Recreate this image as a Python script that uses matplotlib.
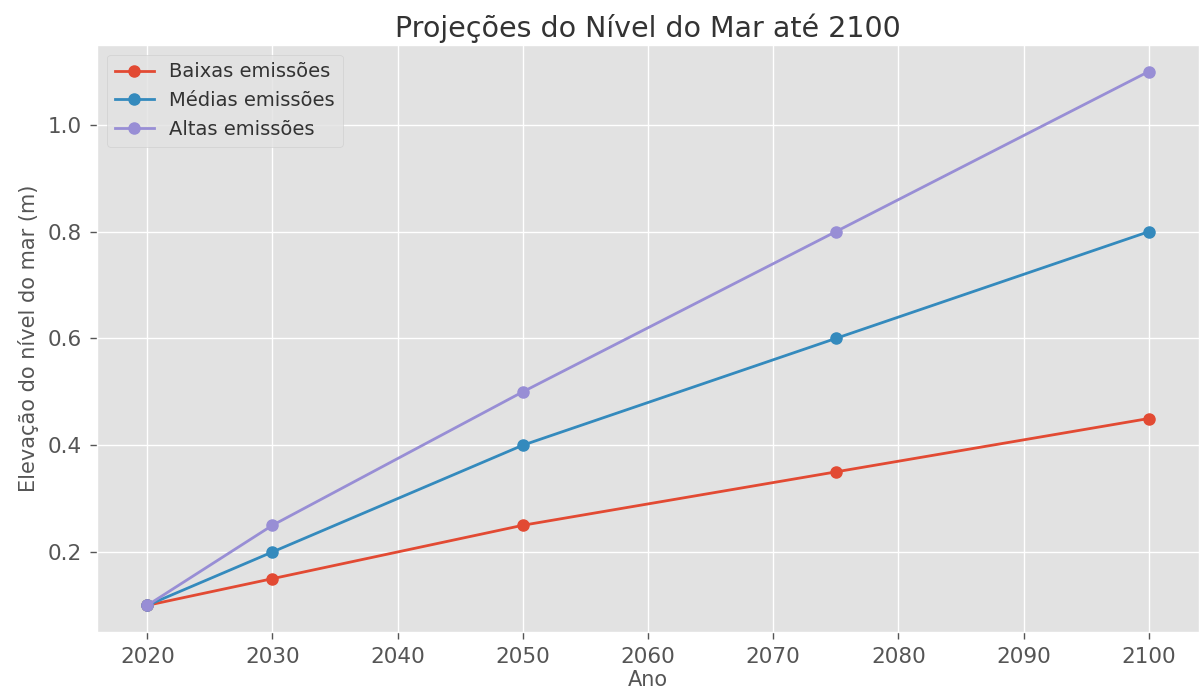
import matplotlib
matplotlib.use("Agg")
import matplotlib.pyplot as plt

# Dados das projeções
anos = [2020, 2030, 2050, 2075, 2100]
baixas = [0.10, 0.15, 0.25, 0.35, 0.45]
medias = [0.10, 0.20, 0.40, 0.60, 0.80]
altas = [0.10, 0.25, 0.50, 0.80, 1.10]

plt.style.use("ggplot")
plt.rcParams["grid.linewidth"] = 1.0
plt.rcParams["axes.facecolor"] = "#E2E2E2"

fig, ax = plt.subplots(figsize=(12, 6.9), dpi=100)
fig.subplots_adjust(left=0.081, right=0.999, top=0.935, bottom=0.084)

ax.plot(anos, baixas, marker="o", lw=2, ms=8, label="Baixas emissões")
ax.plot(anos, medias, marker="o", lw=2, ms=8, label="Médias emissões")
ax.plot(anos, altas, marker="o", lw=2, ms=8, label="Altas emissões")

ax.set_title("Projeções do Nível do Mar até 2100", fontsize=20.5, color="#333333")
ax.set_xlabel("Ano", fontsize=15, labelpad=2)
ax.set_ylabel("Elevação do nível do mar (m)", fontsize=15, labelpad=6)
ax.set_yticks([0.2, 0.4, 0.6, 0.8, 1.0])
ax.tick_params(labelsize=15.5, length=5, width=1, color="#555555", pad=6)
leg = ax.legend(loc="upper left", fontsize=14)
for t in leg.get_texts():
    t.set_color("#333333")

fig.savefig("out.png", dpi=100)
